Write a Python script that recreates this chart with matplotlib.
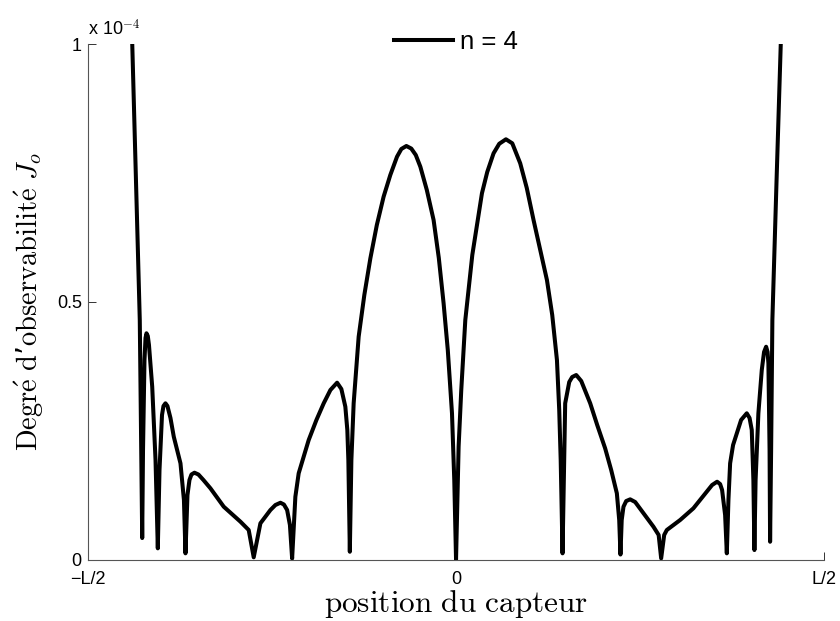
import matplotlib.pyplot as plt

plt.rcParams['mathtext.fontset'] = 'cm'

# sensor position (in units of L) and observability degree J_o (x 1e-4)
pos = [-0.4401, -0.4297, -0.4264, -0.4253, -0.4233, -0.4219, -0.4206, -0.4188, -0.4172, -0.4128,
       -0.4083, -0.4052, -0.4029, -0.3995, -0.3975, -0.3948, -0.3921, -0.3880, -0.3835, -0.3744,
       -0.3697, -0.3676, -0.3649, -0.3622, -0.3595, -0.3554, -0.3500, -0.3432, -0.3337, -0.3156,
       -0.2929, -0.2817, -0.2749, -0.2658, -0.2522, -0.2454, -0.2386, -0.2339, -0.2295, -0.2257,
       -0.2227, -0.2183, -0.2138, -0.2002, -0.1897, -0.1798, -0.1707, -0.1616, -0.1558, -0.1504,
       -0.1477, -0.1463, -0.1443, -0.1422, -0.1391, -0.1323, -0.1246, -0.1164, -0.1076, -0.0984,
       -0.0893, -0.0802, -0.0743, -0.0675, -0.0608, -0.0547, -0.0485, -0.0397, -0.0305, -0.0234,
       -0.0169, -0.0112, -0.0055, -0.0024, 0.0, 0.0024, 0.0035, 0.0071, 0.0126, 0.0221,
       0.0352, 0.0424, 0.0510, 0.0587, 0.0678, 0.0764, 0.0872, 0.0961, 0.1053, 0.1144,
       0.1235, 0.1307, 0.1371, 0.1402, 0.1422, 0.1447, 0.1470, 0.1483, 0.1538, 0.1578,
       0.1633, 0.1701, 0.1823, 0.1918, 0.2026, 0.2108, 0.2185, 0.2217, 0.2234, 0.2251,
       0.2275, 0.2312, 0.2366, 0.2434, 0.2547, 0.2682, 0.2753, 0.2787, 0.2828, 0.2864,
       0.3045, 0.3225, 0.3407, 0.3479, 0.3547, 0.3588, 0.3615, 0.3656, 0.3679, 0.3701,
       0.3724, 0.3764, 0.3815, 0.3873, 0.3950, 0.3988, 0.4018, 0.4040, 0.4054, 0.4070,
       0.4108, 0.4154, 0.4185, 0.4213, 0.4233, 0.4244, 0.4260, 0.4267, 0.4281, 0.4298,
       0.4355, 0.4414]
jo = [1.01, 0.4649, 0.0417, 0.2125, 0.3872, 0.4299, 0.4391, 0.4338, 0.4163, 0.3354,
      0.1931, 0.0217, 0.1737, 0.2805, 0.2979, 0.3032, 0.2979, 0.2747, 0.2384, 0.1867,
      0.1155, 0.0120, 0.1252, 0.1543, 0.1650, 0.1685, 0.1650, 0.1543, 0.1382, 0.1025,
      0.0734, 0.0573, 0.0043, 0.0703, 0.0961, 0.1058, 0.1102, 0.1068, 0.0961, 0.0670,
      0.0020, 0.1219, 0.1673, 0.2319, 0.2708, 0.3032, 0.3290, 0.3432, 0.3309, 0.2966,
      0.2514, 0.1931, 0.0151, 0.1931, 0.3032, 0.4325, 0.5134, 0.5846, 0.6493, 0.7042,
      0.7463, 0.7818, 0.7968, 0.8026, 0.7976, 0.7851, 0.7624, 0.7172, 0.6590, 0.5852,
      0.4973, 0.4066, 0.2838, 0.1543, 0.0, 0.1543, 0.2189, 0.3290, 0.4649, 0.5910,
      0.7108, 0.7521, 0.7884, 0.8069, 0.8156, 0.8078, 0.7690, 0.7211, 0.6590, 0.6007,
      0.5425, 0.4746, 0.3872, 0.2902, 0.1931, 0.0120, 0.1931, 0.3032, 0.3445, 0.3542,
      0.3581, 0.3465, 0.3032, 0.2611, 0.2158, 0.1737, 0.1285, 0.0767, 0.0097, 0.0767,
      0.1025, 0.1135, 0.1168, 0.1116, 0.0897, 0.0637, 0.0476, 0.0023, 0.0476, 0.0573,
      0.0767, 0.0994, 0.1316, 0.1446, 0.1510, 0.1465, 0.1349, 0.0864, 0.0120, 0.1155,
      0.1867, 0.2222, 0.2450, 0.2708, 0.2838, 0.2747, 0.2514, 0.1543, 0.0184, 0.1543,
      0.2838, 0.3678, 0.4028, 0.4130, 0.4028, 0.3808, 0.2125, 0.0345, 0.2125, 0.4649,
      0.7366, 1.01]

xticks = [-0.5, 0, 0.5]
xlabels = ['\u2212L/2', '0', 'L/2']
yticks = [0, 0.5, 1]
ylabels = ['0', '0.5', '1']

fig = plt.figure(figsize=(8.4, 6.21), dpi=100)
ax = fig.add_axes([0.1048, 0.099, 0.8762, 0.8297])

ax.plot(pos, jo, color='black', lw=2.9, label='n = 4')

ax.set_xlim(-0.5, 0.5)
ax.set_ylim(0, 1)
ax.set_xticks(xticks)
ax.set_xticklabels(xlabels, fontfamily='Liberation Sans', fontsize=13)
ax.set_yticks(yticks)
ax.set_yticklabels(ylabels, fontfamily='Liberation Sans', fontsize=13)
ax.tick_params(direction='in', length=5.5, width=0.7, color='#333333')
ax.tick_params(axis='x', pad=8.5)
ax.tick_params(axis='y', pad=4.5)

for s in ['top', 'right']:
    ax.spines[s].set_visible(False)
for s in ['left', 'bottom']:
    ax.spines[s].set_linewidth(0.8)
    ax.spines[s].set_color('#555555')

# multiplier shown above the y axis, as in the original
ax.text(0.0, 1.0175, 'x 10$^{\\mathsf{-4}}$', transform=ax.transAxes,
        fontfamily='Liberation Sans', fontsize=13, ha='left', va='baseline')

ax.set_xlabel(r'$\mathrm{position\ du\ capteur}$', fontsize=22.5, labelpad=0)
ax.set_ylabel(r"$\mathrm{Degr\acute{e}\ d}$’$\mathrm{observabilit\acute{e}}\ J_o$",
              fontsize=20.5, labelpad=8)

ax.legend(loc='center', bbox_to_anchor=(0.5, 1.004), frameon=False,
          prop={'family': 'Liberation Sans', 'size': 18.5},
          handlelength=2.3, handletextpad=0.28)

fig.savefig('out.png', dpi=100)
